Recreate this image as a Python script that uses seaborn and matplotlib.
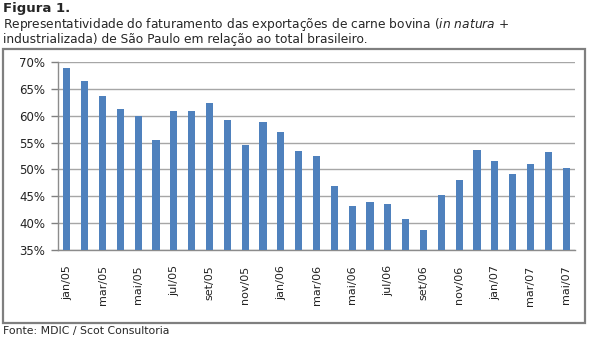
import matplotlib
matplotlib.use("Agg")
import matplotlib.pyplot as plt
from matplotlib.patches import Rectangle
import seaborn as sns
import pandas as pd

# Monthly share (%) of São Paulo in Brazilian beef export revenue
months = ["jan/05", "fev/05", "mar/05", "abr/05", "mai/05", "jun/05", "jul/05", "ago/05",
          "set/05", "out/05", "nov/05", "dez/05", "jan/06", "fev/06", "mar/06", "abr/06",
          "mai/06", "jun/06", "jul/06", "ago/06", "set/06", "out/06", "nov/06", "dez/06",
          "jan/07", "fev/07", "mar/07", "abr/07", "mai/07"]
share = [68.8, 66.5, 63.6, 61.3, 59.9, 55.5, 60.9, 60.8,
         62.4, 59.2, 54.5, 58.8, 57.0, 53.4, 52.5, 47.0,
         43.1, 44.0, 43.5, 40.7, 38.8, 45.3, 48.1, 53.7,
         51.5, 49.2, 51.0, 53.3, 50.3]
y_ticks = [35, 40, 45, 50, 55, 60, 65, 70]

sns.set_style("white")
plt.rcParams["font.family"] = ["DejaVu Sans"]

df = pd.DataFrame({"mes": months, "valor": share})

W, H = 590, 340
fig = plt.figure(figsize=(W / 100, H / 100), dpi=100)
ax = fig.add_axes([58 / W, 1 - 250 / H, (575 - 58) / W, (250 - 62) / H])

sns.barplot(data=df, x="mes", y="valor", order=months, color="#4F81BD",
            saturation=1, width=0.4, linewidth=0, edgecolor="none", ax=ax, zorder=3)

ax.set_xlim(-0.5, len(months) - 0.5)
ax.set_ylim(35, 70)
ax.set_yticks(y_ticks)
ax.set_yticklabels([f"{v}%" for v in y_ticks], fontsize=8.5, color="#222222")
ax.yaxis.grid(True, color="#A6A6A6", linewidth=1, zorder=0)
ax.set_axisbelow(True)

# labels every second month, tick marks on the boundaries of each pair
ax.set_xticks(range(0, len(months), 2))
ax.set_xticklabels(months[::2], rotation=90, fontsize=8, color="#222222")
ax.set_xticks([i - 0.5 for i in range(0, len(months) + 1, 2)], minor=True)
ax.tick_params(axis="x", which="major", length=0, pad=11)
ax.tick_params(axis="x", which="minor", length=4, width=1, color="#808080", direction="out")
ax.tick_params(axis="y", length=5, width=1, color="#808080", direction="out", pad=4, left=True)

for s in ["top", "right"]:
    ax.spines[s].set_visible(False)
for s in ["left", "bottom"]:
    ax.spines[s].set_color("#8C8C8C")
    ax.spines[s].set_linewidth(1)

ax.set_xlabel("")
ax.set_ylabel("")

# chart frame
fig.patches.append(Rectangle((3 / W, 1 - 323 / H), 582 / W, 274 / H,
                             transform=fig.transFigure, fill=False,
                             edgecolor="#7F7F7F", linewidth=1.6))

fig.text(3 / W, 1 - 2 / H, "Figura 1.", fontsize=9.5, fontweight="bold", va="top", ha="left")
fig.text(3 / W, 1 - 28 / H,
         r"Representatividade do faturamento das exportações de carne bovina ($\it{in\ natura}$ +",
         fontsize=8.8, va="baseline", ha="left")
fig.text(3 / W, 1 - 43 / H,
         "industrializada) de São Paulo em relação ao total brasileiro.",
         fontsize=8.8, va="baseline", ha="left")
fig.text(3 / W, 1 - 326 / H, "Fonte: MDIC / Scot Consultoria", fontsize=7.8, va="top", ha="left")

fig.savefig("out.png", dpi=100)
